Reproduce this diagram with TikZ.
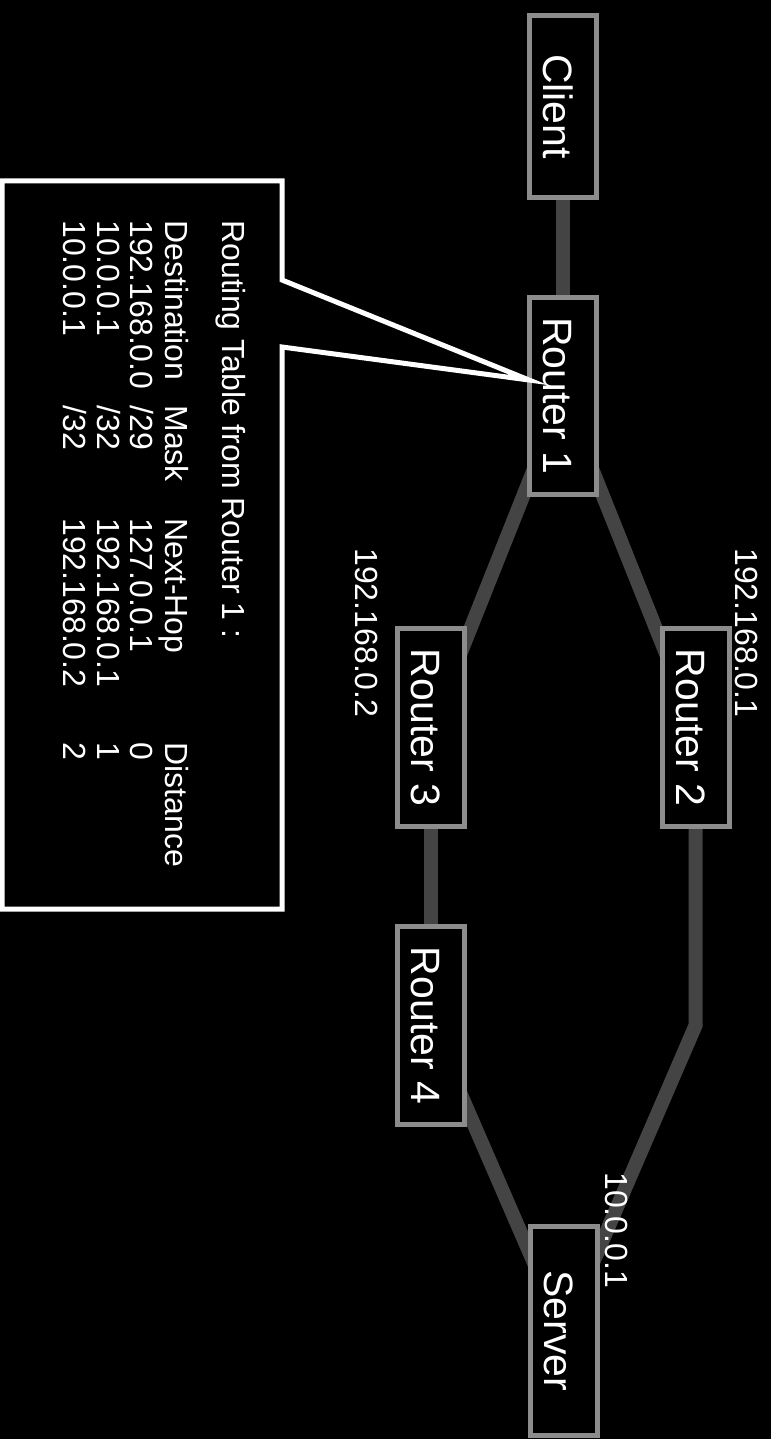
\documentclass[tikz,border=0pt]{standalone}
\usepackage{fontspec}
\setmainfont{Liberation Sans}
\usepackage{tikz}
\pgfdeclarelayer{background}
\pgfdeclarelayer{edges}
\pgfsetlayers{background,edges,main}
\definecolor{boxgray}{RGB}{140,140,140}
\definecolor{wiregray}{RGB}{68,68,68}
\tikzset{
  hostbox/.style={draw=boxgray, line width=2.5pt, fill=black, text=white,
    rotate=-90, inner sep=0pt, minimum height=33.5pt,
    text height=19.2pt, text depth=0pt,
    font=\fontsize{20.5}{24}\selectfont},
  wire/.style={draw=wiregray, line width=7pt},
  iplabel/.style={rotate=-90, anchor=base west, inner sep=0pt, text=white,
    font=\fontsize{16}{19}\selectfont},
  tabtext/.style={iplabel},
  callout/.style={draw=white, line width=2.5pt, fill=black}
}
\newcommand{\rtrow}[4]{\makebox[92.5pt][l]{#1}\makebox[56.5pt][l]{#2}\makebox[112pt][l]{#3}#4}

\begin{document}
\begin{tikzpicture}[x=0.5pt, y=-0.5pt]
  \useasboundingbox (0,0) rectangle (771,1439);
  \begin{pgfonlayer}{background}
    \fill[black] (0,0) rectangle (771,1439);
  \end{pgfonlayer}
  % hosts
  \node[hostbox, minimum width=91pt] (client) at (563,106.5) {Client};
  \node[hostbox, minimum width=98.5pt] (r1) at (563,396) {Router 1};
  \node[hostbox, minimum width=99pt] (r2) at (695.5,727.5) {Router 2};
  \node[hostbox, minimum width=99pt] (r3) at (431,727.5) {Router 3};
  \node[hostbox, minimum width=99pt] (r4) at (431,1025.5) {Router 4};
  \node[hostbox, minimum width=104.5pt] (srv) at (563.5,1331) {Server};
  % links
  \begin{pgfonlayer}{edges}
    \draw[wire] (client.center) -- (r1.center);
    \draw[wire] (r1.center) -- (r2.center);
    \draw[wire] (r1.center) -- (r3.center);
    \draw[wire] (r3.center) -- (r4.center);
    \draw[wire] (r2.center) -- (r2.center |- r4.center) -- (srv.center);
    \draw[wire] (r4.center) -- (srv.center);
  \end{pgfonlayer}
  % addresses
  \node[iplabel] (ip2) at (735,548) {192.168.0.1};
  \node[iplabel] (ip3) at (355,548) {192.168.0.2};
  \node[iplabel] (ipsrv) at (605,1172) {10.0.0.1};
  % routing table callout
  \draw[callout] (282,280) -- (529,380) -- (282,347) -- (282,909)
    -- (2,909) -- (2,181) -- (282,181) -- cycle;
  \node[tabtext] (rttitle) at (222,220) {Routing Table from Router 1 :};
  \node[tabtext] (rthead) at (165,220) {\rtrow{Destination}{Mask}{Next-Hop}{Distance}};
  \node[tabtext] (rtrow1) at (130,220) {\rtrow{192.168.0.0}{/29}{127.0.0.1}{0}};
  \node[tabtext] (rtrow2) at (97,220) {\rtrow{10.0.0.1}{/32}{192.168.0.1}{1}};
  \node[tabtext] (rtrow3) at (63,220) {\rtrow{10.0.0.1}{/32}{192.168.0.2}{2}};
\end{tikzpicture}
\end{document}
